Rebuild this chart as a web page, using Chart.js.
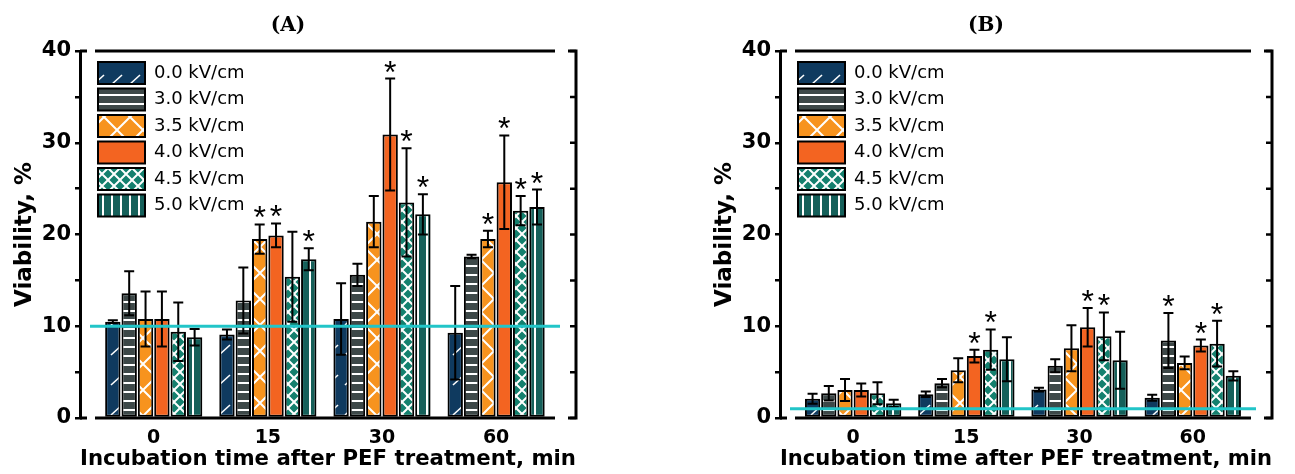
<!DOCTYPE html>
<html><head><meta charset="utf-8">
<script src="https://cdn.jsdelivr.net/npm/chart.js@4.4.1/dist/chart.umd.min.js"></script>
<style>
html,body{margin:0;padding:0;background:#fff;width:1295px;height:474px;overflow:hidden;}
canvas{position:absolute;top:0;}
#chartA{left:0;} #chartB{left:700px;}
</style></head><body>
<canvas id="chartA" width="602" height="474"></canvas>
<canvas id="chartB" width="590" height="474"></canvas>
<script>
// ---------- data ----------
const timeLabels = ['0', '15', '30', '60'];
const fieldLabels = ['0.0 kV/cm', '3.0 kV/cm', '3.5 kV/cm', '4.0 kV/cm', '4.5 kV/cm', '5.0 kV/cm'];
const yTickStep = 5;
const yMax = 40;

// Panel A: means
const meanA_00 = [10.5, 9.1, 10.8, 9.3];
const meanA_30 = [13.6, 12.8, 15.6, 17.6];
const meanA_35 = [10.8, 19.5, 21.4, 19.5];
const meanA_40 = [10.8, 19.9, 30.9, 25.7];
const meanA_45 = [9.4, 15.4, 23.5, 22.6];
const meanA_50 = [8.8, 17.3, 22.2, 23.0];
// Panel A: error
const errA_00 = [0.15, 0.55, 3.9, 5.1];
const errA_30 = [2.4, 3.6, 1.2, 0.2];
const errA_35 = [3.0, 1.6, 2.8, 0.9];
const errA_40 = [3.0, 1.3, 6.1, 5.1];
const errA_45 = [3.2, 4.9, 5.9, 1.6];
const errA_50 = [0.9, 1.2, 2.2, 1.9];
// Panel A: significance (*)
const sigA_00 = [0, 0, 0, 0];
const sigA_30 = [0, 0, 0, 0];
const sigA_35 = [0, 1, 0, 1];
const sigA_40 = [0, 1, 1, 1];
const sigA_45 = [0, 0, 1, 1];
const sigA_50 = [0, 1, 1, 1];
const controlA = 10;

// Panel B: means
const meanB_00 = [2.1, 2.6, 3.1, 2.2];
const meanB_30 = [2.7, 3.8, 5.7, 8.45];
const meanB_35 = [3.05, 5.2, 7.6, 6.0];
const meanB_40 = [3.05, 6.75, 9.9, 7.9];
const meanB_45 = [2.7, 7.45, 8.9, 8.1];
const meanB_50 = [1.6, 6.4, 6.3, 4.6];
// Panel B: error
const errB_00 = [0.55, 0.3, 0.2, 0.33];
const errB_30 = [0.8, 0.45, 0.7, 3.0];
const errB_35 = [1.2, 1.3, 2.5, 0.7];
const errB_40 = [0.7, 0.7, 2.1, 0.65];
const errB_45 = [1.2, 2.2, 2.6, 2.5];
const errB_50 = [0.4, 2.4, 3.1, 0.5];
// Panel B: significance (*)
const sigB_00 = [0, 0, 0, 0];
const sigB_30 = [0, 0, 0, 1];
const sigB_35 = [0, 0, 0, 0];
const sigB_40 = [0, 1, 1, 1];
const sigB_45 = [0, 1, 1, 1];
const sigB_50 = [0, 0, 0, 0];
const controlB = 1;

// ---------- styles ----------
function tile(ctx, w, h, bg, draw) {
  const c = document.createElement('canvas');
  c.width = w; c.height = h;
  const g = c.getContext('2d');
  g.fillStyle = bg; g.fillRect(0, 0, w, h);
  g.strokeStyle = '#fff'; g.fillStyle = '#fff';
  if (draw) draw(g);
  return ctx.createPattern(c, 'repeat');
}
function makePatterns(ctx) {
  return [
    tile(ctx, 18, 30, '#0f3a5f', g => { g.lineWidth = 1.6; g.beginPath(); g.moveTo(3, 25); g.lineTo(14, 15); g.stroke(); }),
    tile(ctx, 8, 9, '#3d4848', g => { g.fillRect(0, 4, 8, 2); }),
    tile(ctx, 26, 26, '#f7931e', g => { g.lineWidth = 2; g.beginPath(); g.moveTo(0, 13); g.lineTo(13, 0); g.lineTo(26, 13); g.lineTo(13, 26); g.closePath(); g.stroke(); }),
    tile(ctx, 4, 4, '#f36421'),
    tile(ctx, 12, 12, '#14806e', g => { g.lineWidth = 2; g.beginPath(); g.moveTo(-1, -1); g.lineTo(13, 13); g.moveTo(13, -1); g.lineTo(-1, 13); g.stroke(); }),
    tile(ctx, 9, 9, '#15605a', g => { g.fillRect(3, 0, 2, 9); })
  ];
}

// ---------- plugins ----------
const errorPlugin = {
  id: 'errbars',
  afterDatasetsDraw(chart, args, opts) {
    const ctx = chart.ctx, ys = chart.scales.y, ca = chart.chartArea;
    ctx.save();
    chart.data.datasets.forEach((ds, d) => {
      const meta = chart.getDatasetMeta(d);
      meta.data.forEach((el, i) => {
        const v = ds.data[i].y, e = ds.errs[i];
        const yt = ys.getPixelForValue(v + e), yb = ys.getPixelForValue(v - e);
        ctx.strokeStyle = '#000'; ctx.lineWidth = 2;
        ctx.beginPath();
        ctx.moveTo(el.x, yt); ctx.lineTo(el.x, yb);
        ctx.moveTo(el.x - 5, yt); ctx.lineTo(el.x + 5, yt);
        ctx.moveTo(el.x - 5, yb); ctx.lineTo(el.x + 5, yb);
        ctx.stroke();
        if (ds.sigs[i]) {
          ctx.fillStyle = '#000';
          ctx.font = '32px "Liberation Sans"';
          ctx.textAlign = 'center'; ctx.textBaseline = 'alphabetic';
          ctx.fillText('*', el.x, yt + 4);
        }
      });
    });
    // control level line
    const yc = ys.getPixelForValue(opts.level);
    ctx.strokeStyle = '#22c5c8'; ctx.lineWidth = 3;
    ctx.beginPath(); ctx.moveTo(ca.left + 10, yc); ctx.lineTo(ca.right - 16, yc); ctx.stroke();
    ctx.restore();
  }
};
const framePlugin = {
  id: 'frame',
  afterLayout(chart) {
    const lg = chart.legend, ca = chart.chartArea;
    if (lg) { lg.left = ca.left + 13.5; lg.top = ca.top + 6.5; }
  },
  afterDraw(chart) {
    const ctx = chart.ctx, ca = chart.chartArea, ys = chart.scales.y;
    ctx.save();
    ctx.strokeStyle = '#000'; ctx.lineWidth = 3; ctx.lineCap = 'butt';
    ctx.beginPath();
    ctx.moveTo(ca.right, ca.top - 1.5); ctx.lineTo(ca.right, ca.bottom + 1.5);
    ctx.moveTo(ca.right - 8, ca.top); ctx.lineTo(ca.right, ca.top);
    ctx.moveTo(ca.right - 8, ca.bottom); ctx.lineTo(ca.right, ca.bottom);
    ctx.moveTo(ca.left, ca.top); ctx.lineTo(ca.left + 7, ca.top);
    ctx.moveTo(ca.left, ca.bottom); ctx.lineTo(ca.left + 7, ca.bottom);
    ctx.moveTo(ca.left + 15, ca.top); ctx.lineTo(ca.right - 21, ca.top);
    ctx.moveTo(ca.left + 15, ca.bottom); ctx.lineTo(ca.right - 21, ca.bottom);
    ctx.stroke();
    ctx.lineWidth = 2.5;
    ctx.beginPath();
    ys.ticks.forEach(t => {
      const y = ys.getPixelForValue(t.value);
      ctx.moveTo(ca.right - 6, y); ctx.lineTo(ca.right, y);
    });
    ctx.stroke();
    ctx.restore();
  }
};

// ---------- chart builder ----------
function buildChart(canvasId, panelTitle, rightPad, means, errs, sigs, level) {
  const ctx = document.getElementById(canvasId).getContext('2d');
  const patterns = makePatterns(ctx);
  const datasets = fieldLabels.map((lab, k) => ({
    label: lab,
    data: means[k].map((v, i) => ({x: i, y: v})),
    backgroundColor: patterns[k],
    borderColor: '#000',
    borderWidth: 2,
    borderSkipped: false,
    categoryPercentage: 0.86,
    barPercentage: 0.94,
    errs: errs[k],
    sigs: sigs[k]
  }));
  const bold = (size) => ({family: 'DejaVu Sans', weight: 'bold', size});
  return new Chart(ctx, {
    type: 'bar',
    data: {datasets},
    options: {
      responsive: false,
      animation: false,
      events: [],
      layout: {padding: {left: 0, right: rightPad, top: 0, bottom: 0}},
      plugins: {
        title: {display: true, text: panelTitle, color: '#000',
          font: {family: 'DejaVu Serif', weight: 'bold', size: 20}, padding: {top: 14, bottom: 13}},
        legend: {position: 'chartArea', align: 'start',
          labels: {boxWidth: 47, boxHeight: 22, padding: 4.5, color: '#000',
            font: {family: 'DejaVu Sans', size: 18}}},
        tooltip: {enabled: false},
        errbars: {level}
      },
      scales: {
        x: {
          type: 'linear', min: -0.646, max: 3.70, offset: false,
          afterBuildTicks: s => { s.ticks = timeLabels.map((_, i) => ({value: i})); },
          afterFit: s => { s.height = 56; },
          grid: {display: false, drawTicks: false},
          border: {display: false},
          ticks: {callback: v => timeLabels[v] ?? '', color: '#000', font: bold(19),
            padding: 9, maxRotation: 0, autoSkip: false},
          title: {display: true, text: 'Incubation time after PEF treatment, min', color: '#000',
            font: bold(22), padding: 2}
        },
        y: {
          min: 0, max: yMax,
          afterFit: s => { s.width = 80; },
          ticks: {stepSize: yTickStep, autoSkip: false,
            callback: v => (v % 10 === 0 ? String(v) : ''), color: '#000', font: bold(21), padding: 4},
          grid: {drawOnChartArea: false, drawTicks: true, tickLength: 5, color: '#000', lineWidth: 2.5},
          border: {display: true, color: '#000', width: 3},
          title: {display: true, text: 'Viability, %', color: '#000', font: bold(23), padding: 11}
        }
      }
    },
    plugins: [errorPlugin, framePlugin]
  });
}

buildChart('chartA', '(A)', 26,
  [meanA_00, meanA_30, meanA_35, meanA_40, meanA_45, meanA_50],
  [errA_00, errA_30, errA_35, errA_40, errA_45, errA_50],
  [sigA_00, sigA_30, sigA_35, sigA_40, sigA_45, sigA_50], controlA);
buildChart('chartB', '(B)', 18,
  [meanB_00, meanB_30, meanB_35, meanB_40, meanB_45, meanB_50],
  [errB_00, errB_30, errB_35, errB_40, errB_45, errB_50],
  [sigB_00, sigB_30, sigB_35, sigB_40, sigB_45, sigB_50], controlB);
</script>
</body></html>
